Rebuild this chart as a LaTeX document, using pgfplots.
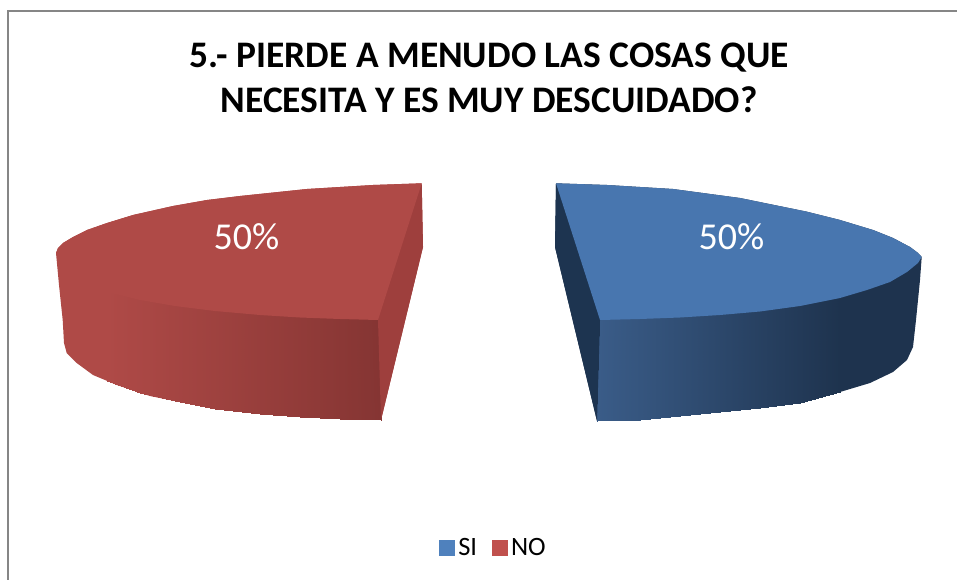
\documentclass[border=0pt]{standalone}
\usepackage{fontspec}
\setmainfont{Carlito}
\usepackage{pgfplots}
\pgfplotsset{compat=1.18}
\usepackage{pgfplotstable}

\definecolor{redtop}{RGB}{175,74,71}
\definecolor{redface}{RGB}{158,63,61}
\definecolor{bluetop}{RGB}{72,118,175}
\definecolor{bluedark}{RGB}{30,51,78}
\definecolor{blueface}{RGB}{29,52,80}
\definecolor{legblue}{RGB}{79,129,189}
\definecolor{legred}{RGB}{192,80,77}
\definecolor{frame}{RGB}{134,134,134}

\pgfplotsset{
  colormap={redside}{rgb255=(175,74,71) rgb255=(133,53,51)},
  colormap={blueside}{rgb255=(58,92,136) rgb255=(30,51,78)},
}

% side wall of the NO slice (top edge runs on under the top face)
\pgfplotstableread{
x y c
107 290 0
140 298 .12
140 393 .12
107 381 0
140 298 .12
175 304 .25
175 401 .25
140 393 .12
175 304 .25
215 309 .39
215 409 .39
175 401 .25
215 309 .39
260 313 .56
260 413.5 .56
215 409 .39
260 313 .56
300 315.5 .70
300 416.5 .70
260 413.5 .56
300 315.5 .70
340 317 .85
340 418.5 .85
300 416.5 .70
340 317 .85
378 318 1
381 420 1
340 418.5 .85
}\redside

% side wall of the SI slice
\pgfplotstableread{
x y c
600 318 0
640 317 .17
640 419.5 .17
597 421 0
640 317 .17
680 315.5 .33
680 416 .33
640 419.5 .17
680 315.5 .33
720 313 .5
720 411.5 .5
680 416 .33
720 313 .5
760 309.5 .67
760 408 .67
720 411.5 .5
760 309.5 .67
800 304 .83
800 402.5 .83
760 408 .67
800 304 .83
840 296 1
840 392 1
800 402.5 .83
}\blueside

\begin{document}
\begin{tikzpicture}
\begin{axis}[
  width=957pt,
  height=580pt,
  scale only axis,
  hide axis,
  enlargelimits=false,
  xmin=0, xmax=957,
  ymin=0, ymax=580,
  y dir=reverse,
  point meta min=0,
  point meta max=1,
  legend style={
    at={(axis cs:493.5,548)},
    anchor=center,
    draw=none,
    fill=none,
    font=\fontsize{26.5}{28}\selectfont,
    inner sep=0pt,
    /tikz/every odd column/.append style={column sep=2pt},
    /tikz/every even column/.append style={column sep=13pt},
  },
  legend columns=2,
  legend cell align=left,
]

% keep the page the size of the whole chart area
\path (axis cs:0,0) rectangle (axis cs:957,580);

% chart frame
\addplot[frame, line width=2pt, forget plot] coordinates {
  (8,580) (8,11) (957,11)
};

% NO slice: silhouette
\addplot[fill=redtop, draw=none, forget plot] coordinates {
  (421.7,183.3) (373,185) (307,189) (240,196) (207,200) (173,206) (133,215)
  (107,223) (87,230) (73,237) (63,243) (58,248) (56,253) (59,285) (62.7,320)
  (64,343) (66.7,353) (76.7,363) (93,375) (117,385) (150,396) (175,401)
  (215,409) (260,413.5) (300,416.5) (340,418.5) (381,420) (423,247)
};
\addplot[patch, patch type=rectangle, shader=interp, colormap name=redside,
  point meta=explicit, forget plot] table[x=x, y=y, meta=c] {\redside};
% NO slice: cut face
\addplot[fill=redface, draw=none, forget plot] coordinates {
  (421.7,183.3) (423,247) (381,420) (378,320) (372,310)
};
% NO slice: top
\addplot[fill=redtop, draw=none, forget plot] coordinates {
  (421.7,183.3) (373,185) (307,189) (240,196) (207,200) (173,206) (133,215)
  (107,223) (87,230) (73,237) (63,243) (58,248) (56,253) (60,263) (68,272)
  (83,282) (107,292) (140,300) (175,306) (215,311) (260,315) (300,317.5)
  (340,319) (378,320)
};

% SI slice: silhouette
\addplot[fill=bluedark, draw=none, forget plot] coordinates {
  (556,183.3) (607,185) (673,189) (740,198) (807,211.7) (840,220) (873,230)
  (893,238) (910,247) (918,253) (921.7,257) (920,280) (916,320) (913,347)
  (907,360) (893,372) (870,383) (840,392) (800,402.5) (760,408) (720,411.5)
  (680,416) (640,419.5) (597,421) (555,247)
};
\addplot[patch, patch type=rectangle, shader=interp, colormap name=blueside,
  point meta=explicit, forget plot] table[x=x, y=y, meta=c] {\blueside};
% SI slice: cut face
\addplot[fill=blueface, draw=none, forget plot] coordinates {
  (556,183.3) (555,247) (597,421) (600,320) (606,310)
};
% SI slice: top
\addplot[fill=bluetop, draw=none, forget plot] coordinates {
  (556,183.3) (607,185) (673,189) (740,198) (807,211.7) (840,220) (873,230)
  (893,238) (910,247) (918,253) (921.7,257) (918,263) (907,272) (890,282)
  (867,290) (840,298) (800,306) (760,311.5) (720,315) (680,317.5) (640,319)
  (600,320)
};

\addlegendimage{only marks, mark=square*, mark size=7.5pt, color=legblue}
\addlegendentry{SI}
\addlegendimage{only marks, mark=square*, mark size=7.5pt, color=legred}
\addlegendentry{NO}

\node[white, font=\fontsize{38}{42}\selectfont] at (axis cs:246.5,237) {50\%};
\node[white, font=\fontsize{38}{42}\selectfont] at (axis cs:731.5,237) {50\%};
\node[align=center, font=\fontsize{37.45}{45}\selectfont\bfseries] at (axis cs:489,77.5)
  {5.- PIERDE A MENUDO LAS COSAS QUE\\NECESITA Y ES MUY DESCUIDADO?};
\end{axis}
\end{tikzpicture}
\end{document}
